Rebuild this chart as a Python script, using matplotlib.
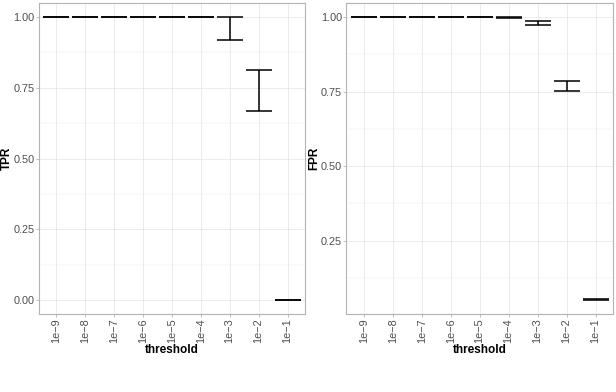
import numpy as np
import matplotlib
matplotlib.use("Agg")
import matplotlib.pyplot as plt
from matplotlib.ticker import MultipleLocator

plt.rcParams['font.family'] = ['Liberation Sans', 'DejaVu Sans']

thresholds = ["1e\u22129", "1e\u22128", "1e\u22127", "1e\u22126", "1e\u22125",
              "1e\u22124", "1e\u22123", "1e\u22122", "1e\u22121"]

# error bar ends
tpr_lo = [1.0, 1.0, 1.0, 1.0, 1.0, 1.0, 0.919, 0.668, 0.0]
tpr_hi = [1.0, 1.0, 1.0, 1.0, 1.0, 1.0, 1.0, 0.812, 0.0]
fpr_lo = [1.0, 1.0, 1.0, 1.0, 1.0, 0.997, 0.974, 0.752, 0.051]
fpr_hi = [1.0, 1.0, 1.0, 1.0, 1.0, 1.0, 0.987, 0.785, 0.054]

fig = plt.figure(figsize=(6.16, 3.92), dpi=100)
ax1 = fig.add_axes([0.0625, 0.199, 0.4325, 0.7933])
ax2 = fig.add_axes([0.5622, 0.199, 0.4329, 0.7933])

border = "#B3B3B3"
grid = "#E5E5E5"


def panel(ax, lo, hi, ylabel):
    x = np.arange(len(thresholds))
    lo = np.array(lo)
    hi = np.array(hi)
    ax.vlines(x, lo, hi, color="black", lw=1.1, zorder=3)
    ax.hlines(lo, x - 0.45, x + 0.45, color="black", lw=1.1, zorder=3)
    ax.hlines(hi, x - 0.45, x + 0.45, color="black", lw=1.1, zorder=3)

    ymin, ymax = lo.min(), hi.max()
    pad = (ymax - ymin) * 0.05
    ax.set_ylim(ymin - pad, ymax + pad)
    ax.set_xlim(-0.6, len(thresholds) - 1 + 0.6)

    ax.set_xticks(x)
    ax.set_xticklabels(thresholds, rotation=90, va="top", ha="center")
    ax.yaxis.set_major_locator(MultipleLocator(0.25))
    ax.yaxis.set_minor_locator(MultipleLocator(0.125))
    ax.yaxis.set_major_formatter(lambda v, p: f"{v:.2f}")

    ax.grid(True, which="major", color=grid, lw=0.55, zorder=0)
    ax.grid(True, which="minor", axis="y", color="#EEEEEE", lw=0.35, zorder=0)
    ax.set_axisbelow(True)
    for s in ax.spines.values():
        s.set_color(border)
        s.set_linewidth(0.8)
    ax.tick_params(which="major", color=border, length=2.0, width=0.6,
                   labelsize=7.8, labelcolor="#4D4D4D", pad=1.0)
    ax.tick_params(which="minor", length=0)

    ax.set_xlabel("threshold", fontsize=8.5, fontweight="bold", labelpad=1.0)
    ax.set_ylabel(ylabel, fontsize=8.5, fontweight="bold", va="center")
    ax.yaxis.set_label_coords(-0.12, 0.5)


panel(ax1, tpr_lo, tpr_hi, "TPR")
panel(ax2, fpr_lo, fpr_hi, "FPR")

fig.savefig("out.png", dpi=100)
